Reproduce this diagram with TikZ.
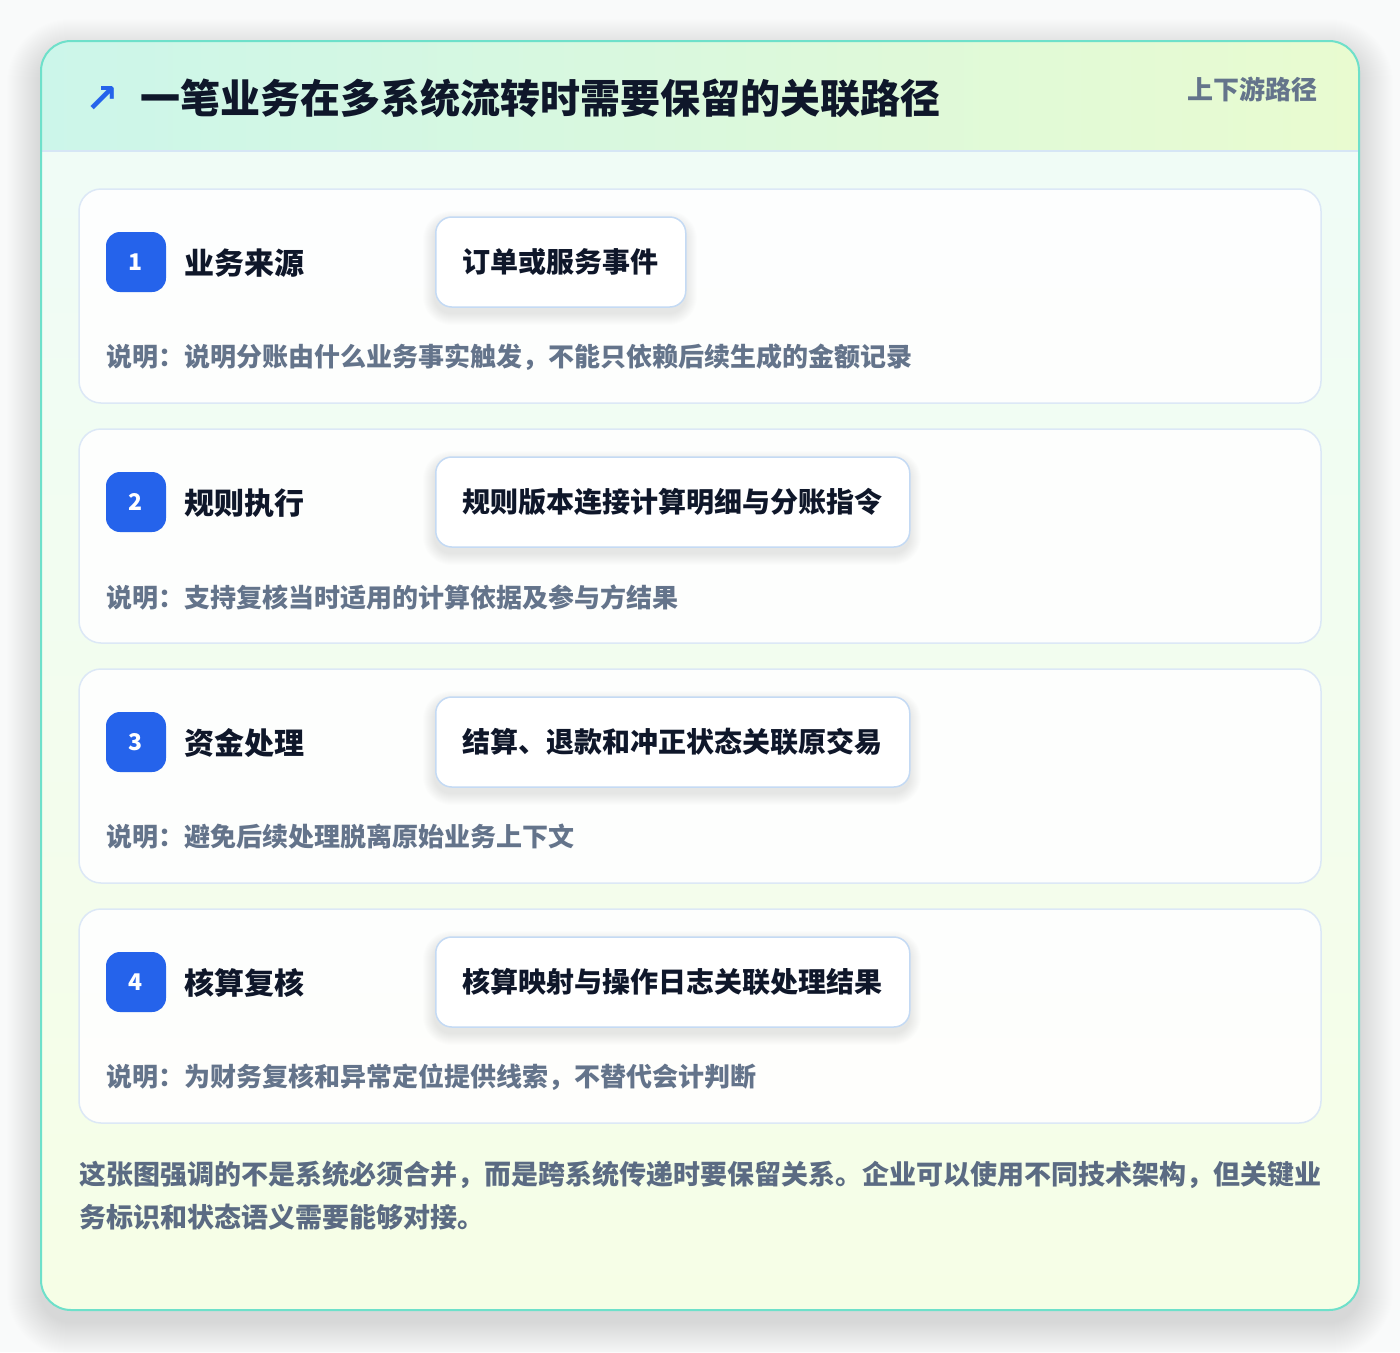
\documentclass[tikz,border=0pt]{standalone}
\usepackage{fontspec}
\setmainfont{Noto Sans CJK SC}
\newfontfamily\symfont{DejaVu Sans}
\definecolor{pagebg}{HTML}{F9FAFA}
\definecolor{frameborder}{HTML}{6EE0CA}
\definecolor{headL}{HTML}{CCF6EA}
\definecolor{headR}{HTML}{E9FBD0}
\definecolor{bodyT}{HTML}{EFFCF8}
\definecolor{bodyB}{HTML}{F6FEE6}
\definecolor{sepline}{HTML}{D6E6F5}
\definecolor{cardborder}{HTML}{DCE8F6}
\definecolor{boxborder}{HTML}{C4DAF4}
\definecolor{badgeblue}{HTML}{2563EB}
\definecolor{ink}{HTML}{0F172A}
\definecolor{muted}{HTML}{64748B}
\definecolor{footink}{HTML}{5B6B83}
\tikzset{
  card/.style={draw=cardborder, line width=1.5pt, fill=white, fill opacity=0.9, text opacity=1,
    rounded corners=22pt, minimum width=1242pt, minimum height=214pt, inner sep=0pt},
  badge/.style={fill=badgeblue, rounded corners=14pt, minimum size=60pt, inner sep=0pt,
    text=white, font=\fontsize{23}{25}\selectfont\bfseries},
  steplabel/.style={anchor=west, inner sep=0pt, text=ink, font=\fontsize{30}{34}\selectfont\bfseries},
  itembox/.style={anchor=west, draw=boxborder, line width=1.5pt, fill=white, rounded corners=16pt,
    minimum height=90pt, inner xsep=27pt, inner ysep=0pt, text=ink,
    font=\fontsize{28}{30}\selectfont\bfseries},
  desc/.style={anchor=west, inner sep=0pt, text=muted, font=\fontsize{26}{28}\selectfont\bfseries},
}
% soft shadow: #1 x0, #2 y0, #3 x1, #4 y1, #5 radius, #6 offset down, #7 spread steps, #8 opacity per layer
\newcommand{\softshadow}[8]{%
  \foreach \k in {1,...,#7}{%
    \fill[black, opacity=#8, rounded corners={#5+\k}]
      ({#1-\k},{#2-\k+#6}) rectangle ({#3+\k},{#4+\k+#6});
  }%
}
\begin{document}
\begin{tikzpicture}[x=1pt,y=-1pt]
\useasboundingbox (0,0) rectangle (1400,1352);
\fill[pagebg] (0,0) rectangle (1400,1352);
% frame shadow
\softshadow{41}{41}{1359}{1310}{30}{12}{34}{0.0032}
% frame with body gradient
\node[rounded corners=30pt, minimum width=1318pt, minimum height=1269pt, inner sep=0pt,
  top color=bodyT, bottom color=bodyB] (frame) at (700,675.5) {};
\begin{scope}
  \clip[rounded corners=30pt] (41,41) rectangle (1359,1310);
  \shade[left color=headL, right color=headR] (41,41) rectangle (1359,151);
\end{scope}
\draw[sepline, line width=1.5pt] (41,151) -- (1359,151);
\draw[frameborder, line width=2pt, rounded corners=30pt] (41,41) rectangle (1359,1310);
% header texts
\node[anchor=center, inner sep=0pt, text=badgeblue, font=\symfont\fontsize{40}{42}\selectfont\bfseries] (arrow) at (102,99) {↗};
\node[anchor=west, inner sep=0pt, text=ink, font=\fontsize{40}{44}\selectfont\bfseries] (title) at (140,98) {一笔业务在多系统流转时需要保留的关联路径};
\node[anchor=east, inner sep=0pt, text=muted, font=\fontsize{26}{28}\selectfont\bfseries] (tag) at (1318,89) {上下游路径};
% cards
\node[card] (c1) at (700,296) {};
\node[badge] (b1) at (136,262) {1};
\node[steplabel] (l1) at (184,263) {业务来源};
\softshadow{435}{217}{685}{307}{16}{6}{12}{0.006}
\node[itembox] (i1) at (435,262) {订单或服务事件};
\node[desc] (d1) at (106,357) {说明：说明分账由什么业务事实触发，不能只依赖后续生成的金额记录};

\node[card] (c2) at (700,536) {};
\node[badge] (b2) at (136,502) {2};
\node[steplabel] (l2) at (184,503) {规则执行};
\softshadow{435}{457}{909}{547}{16}{6}{12}{0.006}
\node[itembox] (i2) at (435,502) {规则版本连接计算明细与分账指令};
\node[desc] (d2) at (106,597) {说明：支持复核当时适用的计算依据及参与方结果};

\node[card] (c3) at (700,776) {};
\node[badge] (b3) at (136,742) {3};
\node[steplabel] (l3) at (184,743) {资金处理};
\softshadow{435}{697}{909}{787}{16}{6}{12}{0.006}
\node[itembox] (i3) at (435,742) {结算、退款和冲正状态关联原交易};
\node[desc] (d3) at (106,837) {说明：避免后续处理脱离原始业务上下文};

\node[card] (c4) at (700,1016) {};
\node[badge] (b4) at (136,982) {4};
\node[steplabel] (l4) at (184,983) {核算复核};
\softshadow{435}{937}{909}{1027}{16}{6}{12}{0.006}
\node[itembox] (i4) at (435,982) {核算映射与操作日志关联处理结果};
\node[desc] (d4) at (106,1077) {说明：为财务复核和异常定位提供线索，不替代会计判断};
% footer
\node[anchor=west, inner sep=0pt, text=footink, font=\fontsize{27}{30}\selectfont\bfseries] (f1) at (79,1175) {这张图强调的不是系统必须合并，而是跨系统传递时要保留关系。企业可以使用不同技术架构，但关键业};
\node[anchor=west, inner sep=0pt, text=footink, font=\fontsize{27}{30}\selectfont\bfseries] (f2) at (79,1217) {务标识和状态语义需要能够对接。};
\end{tikzpicture}
\end{document}
